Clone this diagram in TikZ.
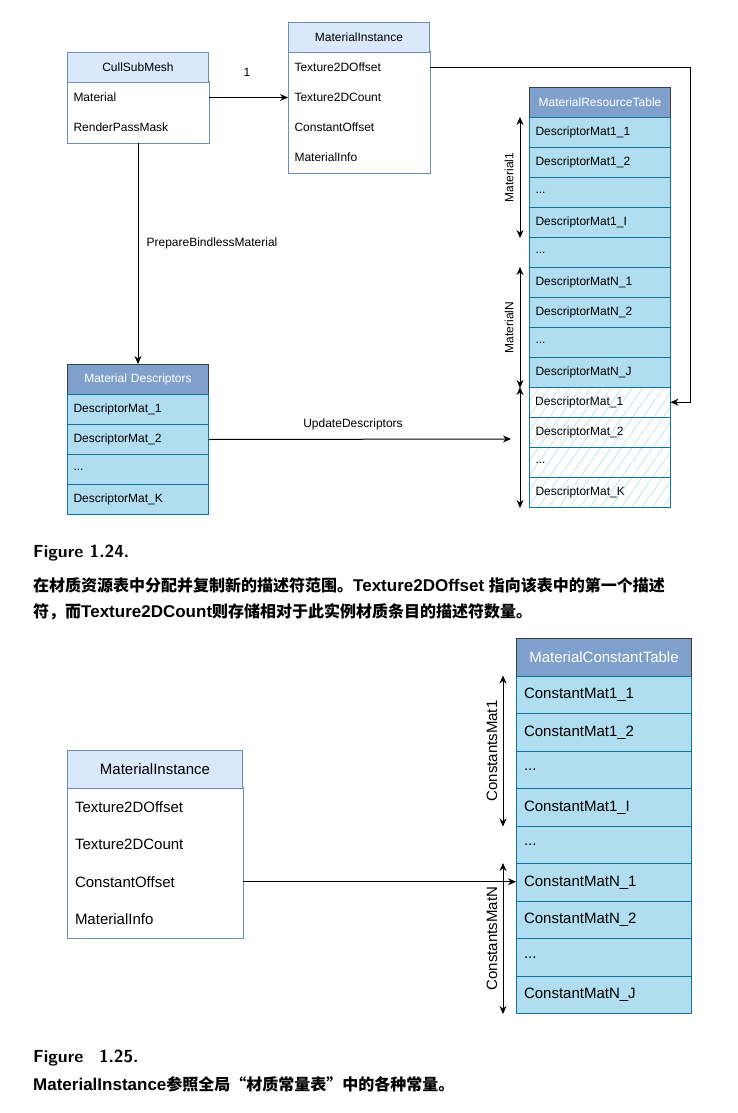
\documentclass[tikz,border=0pt]{standalone}
\usepackage{fontspec}
\setmainfont{Liberation Sans}
\newfontfamily\cjk{Noto Sans CJK SC}
\newfontfamily\lib{Liberation Sans}
\usetikzlibrary{arrows.meta,patterns.meta}
\definecolor{hdrfill}{HTML}{DAE8FC}
\definecolor{hdrline}{HTML}{6C8EBF}
\definecolor{tblhdr}{HTML}{7EA0CA}
\definecolor{tblhdrline}{HTML}{3A3F47}
\definecolor{rowfill}{HTML}{B1DDF0}
\definecolor{rowline}{HTML}{10739E}
\definecolor{hatchc}{HTML}{A4D4EC}
\tikzset{
  sbox/.style={rectangle, anchor=north west, minimum width=141pt, minimum height=30pt,
    text width=129pt, inner xsep=6pt, inner ysep=0pt, font=\fontsize{12}{14}\selectfont, line width=1pt},
  bbox/.style={rectangle, anchor=north west, minimum width=175pt, minimum height=37.5pt,
    text width=160pt, inner xsep=7.5pt, inner ysep=0pt, font=\fontsize{15}{17}\selectfont, line width=1pt},
  uhdr/.style={draw=hdrline, fill=hdrfill, align=center},
  urow/.style={align=left},
  thdr/.style={draw=tblhdrline, fill=tblhdr, text=white, align=center},
  trow/.style={draw=rowline, fill=rowfill, align=left},
  hrow/.style={draw=rowline, align=left, pattern={Lines[angle=55,distance=8.5pt,line width=0.45pt]}, pattern color=hatchc},
  arr/.style={-{Stealth[length=8pt,width=7pt]}, line width=1pt},
  darr/.style={{Stealth[length=8pt,width=7pt]}-{Stealth[length=8pt,width=7pt]}, line width=1pt},
  lbl/.style={font=\fontsize{12}{14}\selectfont, inner sep=0pt},
  blbl/.style={font=\fontsize{15}{17}\selectfont},
  captxt/.style={anchor=west, inner sep=0pt},
}
\begin{document}
\begin{tikzpicture}[x=1pt,y=-1pt]
\useasboundingbox[fill=white] (0,0) rectangle (737,1113);

% ---------- CullSubMesh ----------
\node[sbox,urow] (cs_1) at (67,82) {Material};
\node[sbox,urow] (cs_2) at (67,112) {RenderPassMask};
\draw[hdrline, line width=1pt] (cs_1.north west) rectangle (cs_2.south east);
\node[sbox,uhdr] (cs_h) at (67,52) {CullSubMesh};

% ---------- MaterialInstance (top) ----------
\node[sbox,urow] (mi_1) at (288,52) {Texture2DOffset};
\node[sbox,urow] (mi_2) at (288,82) {Texture2DCount};
\node[sbox,urow] (mi_3) at (288,112) {ConstantOffset};
\node[sbox,urow] (mi_4) at (288,142) {MaterialInfo};
\draw[hdrline, line width=1pt] (mi_1.north west) rectangle (mi_4.south east);
\node[sbox,uhdr] (mi_h) at (288,22) {MaterialInstance};

% ---------- MaterialResourceTable ----------
\node[sbox,thdr] (rt_h) at (529,87) {MaterialResourceTable};
\node[sbox,trow] (rt_1) at (529,117) {DescriptorMat1\_1};
\node[sbox,trow] (rt_2) at (529,147) {DescriptorMat1\_2};
\node[sbox,trow] (rt_3) at (529,177) {...};
\node[sbox,trow] (rt_4) at (529,207) {DescriptorMat1\_I};
\node[sbox,trow] (rt_5) at (529,237) {...};
\node[sbox,trow] (rt_6) at (529,267) {DescriptorMatN\_1};
\node[sbox,trow] (rt_7) at (529,297) {DescriptorMatN\_2};
\node[sbox,trow] (rt_8) at (529,327) {...};
\node[sbox,trow] (rt_9) at (529,357) {DescriptorMatN\_J};
\node[sbox,hrow] (rt_10) at (529,387) {DescriptorMat\_1};
\node[sbox,hrow] (rt_11) at (529,417) {DescriptorMat\_2};
\node[sbox,hrow] (rt_12) at (529,447) {...};
\node[sbox,hrow] (rt_13) at (529,477) {DescriptorMat\_K};

% ---------- Material Descriptors ----------
\node[sbox,thdr] (md_h) at (67,364) {Material Descriptors};
\node[sbox,trow] (md_1) at (67,394) {DescriptorMat\_1};
\node[sbox,trow] (md_2) at (67,424) {DescriptorMat\_2};
\node[sbox,trow] (md_3) at (67,454) {...};
\node[sbox,trow] (md_4) at (67,484) {DescriptorMat\_K};

% ---------- top connectors ----------
\draw[arr] (cs_1.east) -- (cs_1.east -| mi_2.west);
\node[lbl] (l_one) at (247,72) {1};
\coordinate (turn) at (690,0);
\draw[arr] (mi_1.east) -- (mi_1.east -| turn) -- (turn |- rt_10.east) -- (rt_10.east);
\draw[arr] (cs_2.south) -- (md_h.north);
\node[lbl] (l_prep) at (212,243) {PrepareBindlessMaterial};
\coordinate (upd_end) at (511,439);
\draw[arr] (md_2.east) -- (upd_end);
\node[lbl] (l_upd) at (353,424) {UpdateDescriptors};

\draw[darr] ([xshift=-9pt]rt_1.north west) -- node[lbl, midway, rotate=90, above=6pt] (l_m1) {Material1} ([xshift=-9pt]rt_4.south west);
\draw[darr] ([xshift=-9pt]rt_6.north west) -- node[lbl, midway, rotate=90, above=6pt] (l_mn) {MaterialN} ([xshift=-9pt]rt_9.south west);
\draw[darr] ([xshift=-9pt]rt_10.north west) -- ([xshift=-9pt]rt_13.south west);

% ---------- caption 1.24 ----------
\node[captxt] (cap1) at (33,553) {\sffamily\bfseries\fontsize{17.5}{20}\selectfont Figure 1.24.};
\node[captxt] (cap1a) at (33,585) {{\cjk\bfseries\fontsize{16}{19}\selectfont 在材质资源表中分配并复制新的描述符范围。}{\lib\bfseries\fontsize{17}{19}\selectfont Texture2DOffset }{\cjk\bfseries\fontsize{16}{19}\selectfont 指向该表中的第一个描述}};
\node[captxt] (cap1b) at (33,612) {{\cjk\bfseries\fontsize{16}{19}\selectfont 符，而}{\lib\bfseries\fontsize{17}{19}\selectfont Texture2DCount}{\cjk\bfseries\fontsize{16}{19}\selectfont 则存储相对于此实例材质条目的描述符数量。}};

% ---------- MaterialInstance (bottom) ----------
\node[bbox,urow] (bmi_1) at (67,787.5) {Texture2DOffset};
\node[bbox,urow] (bmi_2) at (67,825) {Texture2DCount};
\node[bbox,urow] (bmi_3) at (67,862.5) {ConstantOffset};
\node[bbox,urow] (bmi_4) at (67,900) {MaterialInfo};
\draw[hdrline, line width=1pt] (bmi_1.north west) rectangle (bmi_4.south east);
\node[bbox,uhdr] (bmi_h) at (67,750) {MaterialInstance};

% ---------- MaterialConstantTable ----------
\node[bbox,thdr] (ct_h) at (516,638) {MaterialConstantTable};
\node[bbox,trow] (ct_1) at (516,675.5) {ConstantMat1\_1};
\node[bbox,trow] (ct_2) at (516,713) {ConstantMat1\_2};
\node[bbox,trow] (ct_3) at (516,750.5) {...};
\node[bbox,trow] (ct_4) at (516,788) {ConstantMat1\_I};
\node[bbox,trow] (ct_5) at (516,825.5) {...};
\node[bbox,trow] (ct_6) at (516,863) {ConstantMatN\_1};
\node[bbox,trow] (ct_7) at (516,900.5) {ConstantMatN\_2};
\node[bbox,trow] (ct_8) at (516,938) {...};
\node[bbox,trow] (ct_9) at (516,975.5) {ConstantMatN\_J};

\draw[arr] (bmi_3.east) -- (bmi_3.east -| ct_6.west);
\draw[darr] ([xshift=-13pt]ct_1.north west) -- node[blbl, midway, rotate=90, above=2pt] (l_c1) {ConstantsMat1} ([xshift=-13pt]ct_4.south west);
\draw[darr] ([xshift=-13pt]ct_6.north west) -- node[blbl, midway, rotate=90, above=2pt] (l_cn) {ConstantsMatN} ([xshift=-13pt]ct_9.south west);

% ---------- caption 1.25 ----------
\node[captxt] (cap2) at (33,1058) {\sffamily\bfseries\fontsize{17.5}{20}\selectfont Figure\hspace{0.9em}1.25.};
\node[captxt] (cap2a) at (33,1084) {{\lib\bfseries\fontsize{17}{19}\selectfont MaterialInstance}{\cjk\bfseries\fontsize{16}{19}\selectfont 参照全局“材质常量表”中的各种常量。}};
\end{tikzpicture}
\end{document}
